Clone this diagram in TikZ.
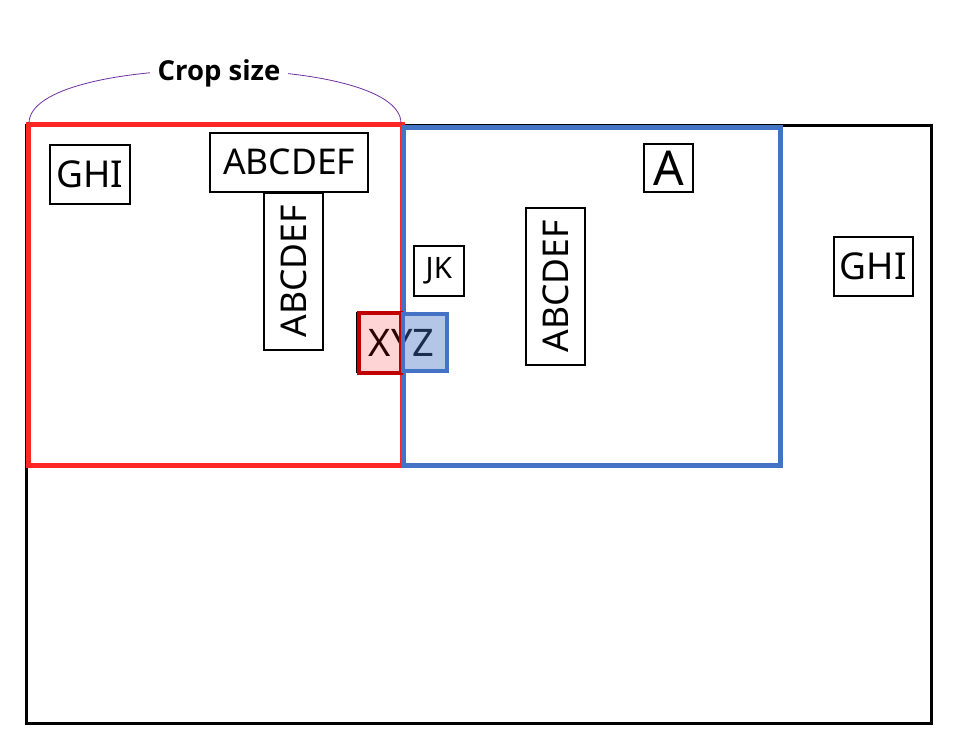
\documentclass[tikz,border=0pt]{standalone}
\usepackage{fontspec}
\setmainfont{Noto Sans}
\newfontfamily\labfont{Open Sans}
\definecolor{cropred}{RGB}{255,38,38}
\definecolor{cropblue}{RGB}{68,114,196}
\definecolor{arcpurple}{RGB}{112,48,160}
\definecolor{darkred}{RGB}{192,0,0}
\begin{document}
\begin{tikzpicture}[x=1pt,y=-1pt,
  tbox/.style={draw=black, line width=2pt, inner sep=0pt, outer sep=0pt, fill=white},
  big/.style={font=\fontsize{35.5}{40}\selectfont},
  ghistyle/.style={font=\fontsize{37}{40}\selectfont}]
\useasboundingbox (0,0) rectangle (954,739);
\fill[white] (0,0) rectangle (954,739);
% frame and crops
\draw[line width=3pt] (26,125) rectangle (931,723);
\draw[cropred, line width=5pt] (28,124.5) rectangle (402,465);
\draw[cropblue, line width=5pt] (403,127) rectangle (780,465);
% arc with label
\coordinate (arcL) at (29,123);
\coordinate (arcR) at (401,123);
\draw[arcpurple, line width=0.8pt] (arcL) .. controls (30,52) and (400,52) .. (arcR);
\node[fill=white, inner xsep=8pt, inner ysep=3pt, anchor=base,
      font=\labfont\fontsize{27.5}{30}\selectfont\bfseries] (label) at (219,80.5) {Crop size};
% text boxes
\node[tbox, ghistyle, minimum width=79.7, minimum height=59] (ghiL) at (89.9,174.5) {GHI};
\node[tbox, big, minimum width=157.7, minimum height=59] (abcT) at (289.2,162.2) {ABCDEF};
\node[tbox, big, rotate=90, minimum width=157, minimum height=58.7] (abcV1) at (293.7,271.2) {ABCDEF};
\node[tbox, font=\fontsize{29.5}{32}\selectfont, minimum width=50.3, minimum height=49.7] (jk) at (438.9,270.9) {JK};
\node[tbox, font=\fontsize{48}{50}\selectfont, minimum width=49.3, minimum height=48.6] (a) at (668.4,168) {A};
\node[tbox, big, rotate=90, minimum width=157, minimum height=58.7] (abcV2) at (555.4,286.2) {ABCDEF};
\node[tbox, ghistyle, minimum width=79.3, minimum height=59] (ghiR) at (873.4,266.2) {GHI};
% XYZ straddling both crops
\node[tbox, font=\fontsize{38}{40}\selectfont, minimum width=89, minimum height=59] (xyz) at (401.5,342.5) {XYZ};
\draw[darkred, line width=4pt, fill=red, fill opacity=0.17] (359.3,312.7) rectangle (401,373);
\draw[cropblue, line width=4pt, fill=cropblue, fill opacity=0.4] (403,314) rectangle (447,371);
\end{tikzpicture}
\end{document}
